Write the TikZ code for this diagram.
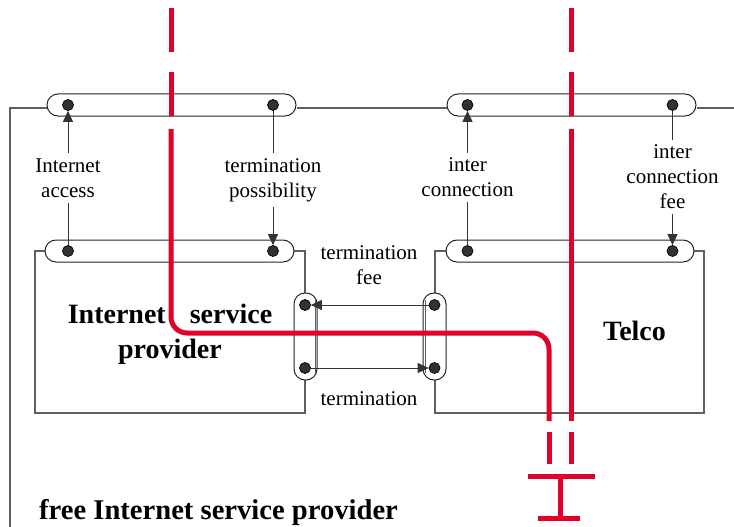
\documentclass[tikz,border=0pt]{standalone}
\usepackage{fontspec}
\setmainfont{Liberation Serif}
\usetikzlibrary{arrows.meta}
\definecolor{netred}{RGB}{225,0,40}
\definecolor{edgegray}{RGB}{95,95,95}
\definecolor{portgray}{RGB}{50,50,50}

\begin{document}
\begin{tikzpicture}[x=1pt,y=-1pt,
  pill/.style={draw=black!85, fill=white, line width=1pt, inner sep=0pt, rounded corners=11pt},
  hpill/.style={pill, minimum width=#1, minimum height=22pt},
  vpill/.style={pill, minimum width=23pt, minimum height=#1},
  port/.style={circle, draw=black, fill=portgray, line width=0.7pt, minimum size=11pt, inner sep=0pt},
  frame/.style={draw=edgegray, line width=1.3pt},
  wire/.style={draw=black!80, line width=1pt},
  headed/.style={-{Triangle[length=11pt,width=10pt]}},
  lbl/.style={font=\fontsize{21}{25}\selectfont, align=center, inner xsep=2pt, inner ysep=5pt},
  big/.style={font=\fontsize{28}{35}\selectfont\bfseries, align=center, inner sep=0pt},
  route/.style={draw=netred, line width=5pt},
]
\useasboundingbox (0,0) rectangle (734,527);

% provider boxes
\node[frame, minimum width=270pt, minimum height=162pt, inner sep=0pt] (isp) at (170,332) {};
\node[frame, minimum width=269pt, minimum height=162pt, inner sep=0pt] (telco) at (569.5,332) {};

% outer boundary of the free ISP and the shared bus
\coordinate (corner) at (10,108);
\coordinate (foot) at (10,527);
\coordinate (rim) at (734,108);

% bus bars
\node[hpill=249pt] (busA) at (171.5,105) {};
\node[hpill=249pt] (busB) at (571.5,105) {};
\node[hpill=249pt] (ispbar) at (169.5,251) {};
\node[hpill=248pt] (telbar) at (570,251) {};
\node[vpill=87pt] (ispgate) at (305.5,336.5) {};
\node[vpill=87pt] (telgate) at (434.5,336.5) {};

\draw[frame] (foot) -- (corner) -- (busA.west |- corner);
\draw[frame] (busA.east |- corner) -- (busB.west |- corner);
\draw[frame] (busB.east |- corner) -- (rim);

% inner strokes of the gateway bars
\draw[edgegray, line width=0.8pt] (315,300) -- (315,373);
\draw[edgegray, line width=0.8pt] (425,300) -- (425,373);

% ports
\node[port] (a1) at (68,105) {};
\node[port] (a2) at (273,105) {};
\node[port] (b1) at (467.5,105) {};
\node[port] (b2) at (672.5,105) {};
\node[port] (i1) at (68,251) {};
\node[port] (i2) at (273,251) {};
\node[port] (t1) at (467.5,251) {};
\node[port] (t2) at (672.5,251) {};
\node[port] (g1) at (305,305) {};
\node[port] (g2) at (305,368) {};
\node[port] (h1) at (434.5,305) {};
\node[port] (h2) at (434.5,368) {};

% labels
\node[lbl] (acc) at (68,178) {Internet\\access};
\node[lbl] (poss) at (273,180) {termination\\possibility};
\node[lbl] (ic) at (467.5,177.5) {inter\\connection};
\node[lbl] (icf) at (672.5,177) {inter\\connection\\fee};
\node[lbl] (tf) at (369,265) {termination\\fee};
\node[lbl, anchor=base] (term) at (369,405) {termination};

% relations
\draw[wire, headed] (acc.north) -- (a1);
\draw[wire] (acc.south) -- (i1);
\draw[wire] (a2) -- (poss.north);
\draw[wire, headed] (poss.south) -- (i2);
\draw[wire, headed] (ic.north) -- (b1);
\draw[wire] (ic.south) -- (t1);
\draw[wire] (b2) -- (icf.north);
\draw[wire, headed] (icf.south) -- (t2);
\draw[wire, headed] (h1) -- (g1);
\draw[wire, headed] (g2) -- (h2);

% names
\node[big] (ispname) at (170,334) {Internet\hspace{24pt}service\\provider};
\node[big, anchor=base] (telconame) at (634.5,340) {Telco};
\node[big, font=\fontsize{28.6}{35}\selectfont\bfseries, anchor=base west] (freename) at (39,519) {free Internet service provider};

% traffic paths
\draw[route] (171,8) -- (171,52);
\draw[route] (171,72) -- (171,116);
\draw[route, rounded corners=16pt] (171,129) -- (171,333) -- (549,333) -- (549,421);
\draw[route] (549,432) -- (549,464);
\draw[route] (571,8) -- (571,52);
\draw[route] (571,72) -- (571,116);
\draw[route] (571,129) -- (571,421);
\draw[route] (571,432) -- (571,464);

% earth terminal
\draw[route] (528,476) -- (595,476);
\draw[route] (560,476) -- (560,518);
\draw[route] (538,518) -- (580,518);
\end{tikzpicture}
\end{document}
